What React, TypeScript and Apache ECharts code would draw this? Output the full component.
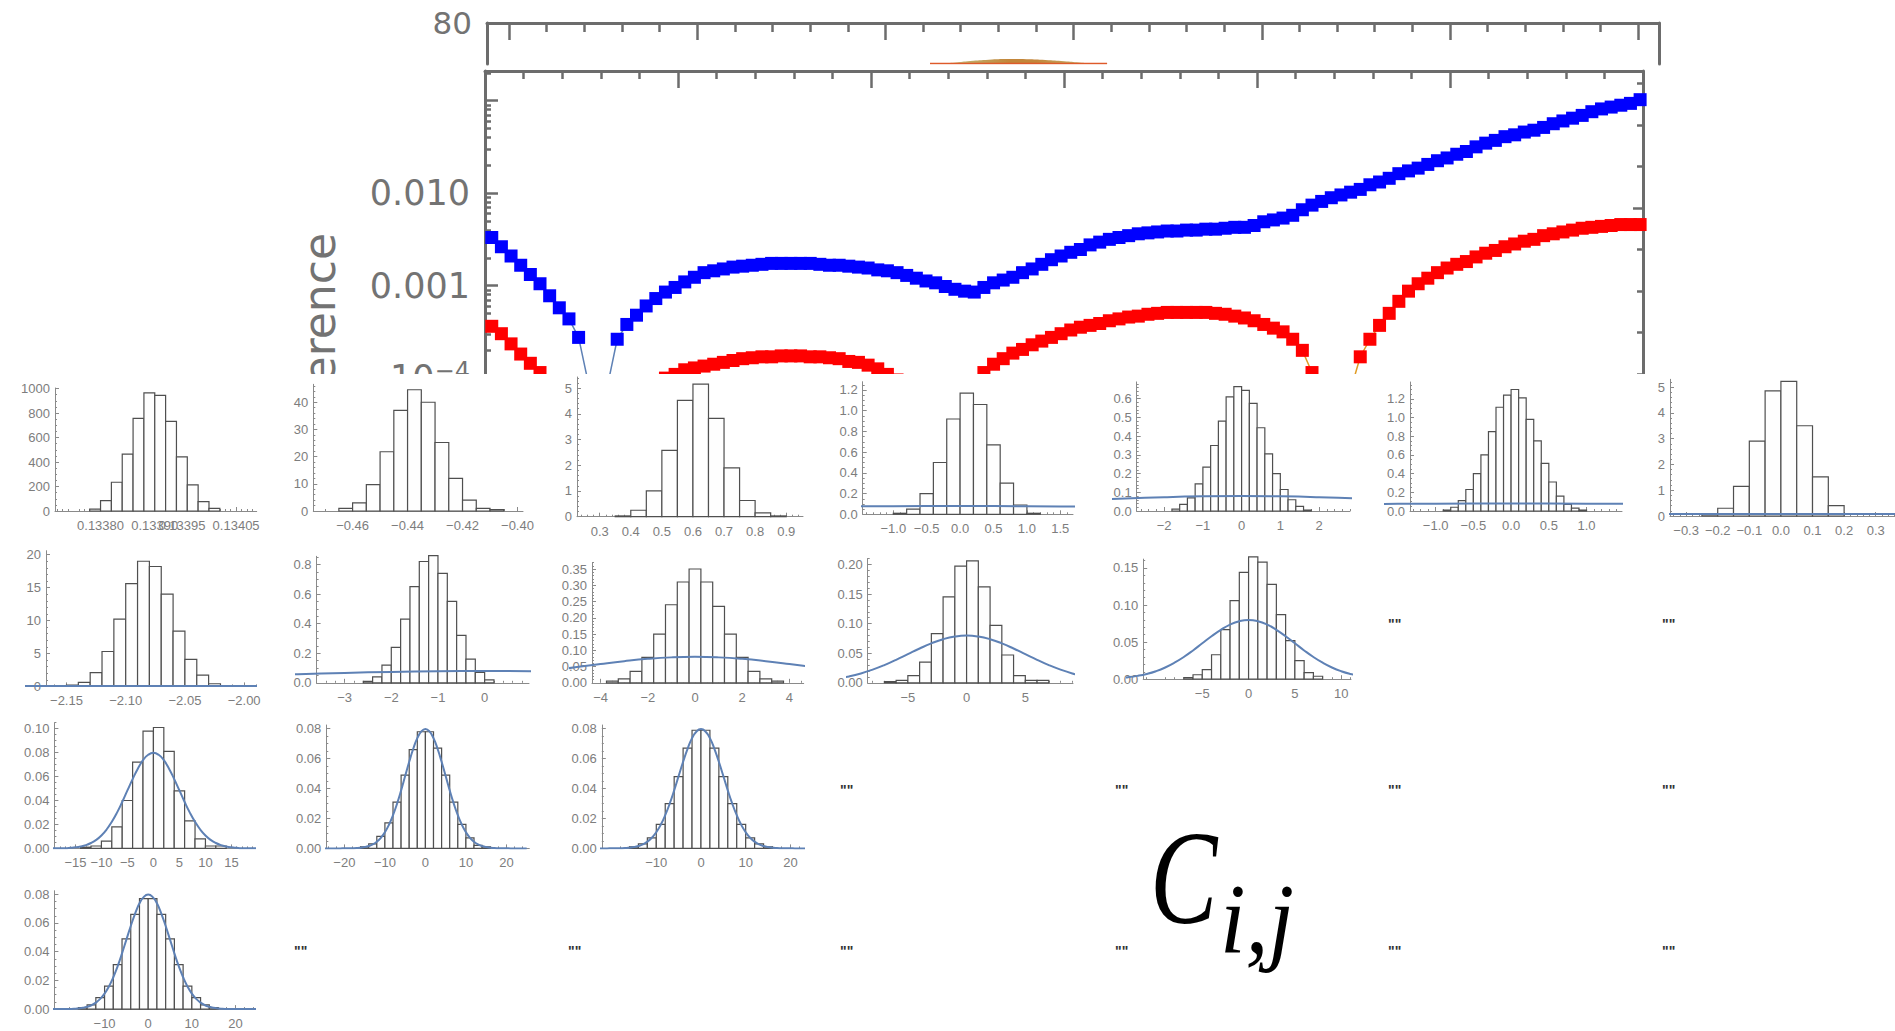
import React, { useEffect, useRef } from 'react';
import * as echarts from 'echarts';

// ---------------- Top plot: log10 of the difference, sampled every 0.5 x-units ----------------
const diffX0 = 0.35;
const diffDX = 0.5;
const blueLog10Diff = [
  -2.48, -2.58, -2.68, -2.78, -2.88, -2.98, -3.11, -3.24, -3.36, -3.56,
  -4.05, -4.9, -4.08, -3.58, -3.42, -3.32, -3.22, -3.14, -3.07, -3.02,
  -2.96, -2.91, -2.86, -2.84, -2.82, -2.8, -2.79, -2.78, -2.77, -2.76,
  -2.76, -2.76, -2.76, -2.76, -2.77, -2.78, -2.78, -2.79, -2.8, -2.81,
  -2.83, -2.84, -2.86, -2.89, -2.92, -2.95, -2.97, -3.01, -3.04, -3.06,
  -3.07, -3.02, -2.97, -2.94, -2.91, -2.86, -2.82, -2.77, -2.72, -2.68,
  -2.64, -2.61, -2.56, -2.53, -2.5, -2.48, -2.46, -2.44, -2.43, -2.42,
  -2.41, -2.41, -2.4, -2.4, -2.39, -2.39, -2.38, -2.37, -2.37, -2.35,
  -2.31, -2.29, -2.27, -2.24, -2.18, -2.13, -2.09, -2.05, -2.02, -1.99,
  -1.96, -1.91, -1.88, -1.84, -1.79, -1.76, -1.73, -1.69, -1.65, -1.62,
  -1.58, -1.55, -1.5, -1.46, -1.43, -1.39, -1.37, -1.34, -1.32, -1.29,
  -1.25, -1.22, -1.19, -1.16, -1.12, -1.09, -1.07, -1.05, -1.03, -0.99,
];
const redLog10Diff = [
  -3.44, -3.52, -3.63, -3.74, -3.84, -3.94, -4.04, -4.15, -4.27, -4.41,
  -4.62, -5.5, -4.78, -4.51, -4.35, -4.24, -4.15, -4.06, -4.0, -3.96,
  -3.91, -3.89, -3.87, -3.85, -3.83, -3.81, -3.79, -3.78, -3.77, -3.77,
  -3.76, -3.76, -3.76, -3.77, -3.77, -3.78, -3.79, -3.82, -3.83, -3.86,
  -3.9, -3.96, -4.02, -4.1, -4.19, -4.35, -4.56, -4.89, -5.5, -4.45,
  -4.13, -3.94, -3.85, -3.79, -3.73, -3.69, -3.64, -3.6, -3.56, -3.52,
  -3.48, -3.45, -3.43, -3.41, -3.38, -3.36, -3.34, -3.33, -3.31, -3.3,
  -3.29, -3.29, -3.29, -3.29, -3.29, -3.3, -3.31, -3.33, -3.35, -3.38,
  -3.42, -3.46, -3.5, -3.58, -3.7, -3.94, -4.35, -5.5, -4.67, -4.13,
  -3.77, -3.58, -3.43, -3.3, -3.17, -3.06, -2.98, -2.92, -2.86, -2.81,
  -2.77, -2.74, -2.69, -2.65, -2.62, -2.58, -2.55, -2.52, -2.5, -2.46,
  -2.44, -2.42, -2.4, -2.38, -2.37, -2.36, -2.35, -2.34, -2.34, -2.34,
];
const mainXMajor = [0, 10, 20, 30, 40, 50, 60];
const logMajorExp = [-5, -4, -3, -2, -1];
const logLabelExp = [-4, -3, -2];
const rightMajor = [0, -5];

// small density strip in the upper panel
const stripX = [2.237, 2.3, 2.37, 2.45, 2.55, 2.65, 2.75, 2.85, 2.95, 3.03, 3.1, 3.178];
const stripY = [0, 1, 3, 6, 8.5, 9.8, 9.5, 8, 5.5, 3, 1, 0];
const panelMajor = [0, 1, 2, 3, 4, 5, 6];
const panelLabel = [80];

// ---------------- Histograms ----------------
const histA = [15, 85, 235, 465, 757, 965, 945, 732, 443, 213, 76, 22];
const histB = [1, 3, 9.7, 21.8, 37, 44.6, 40, 25.2, 12, 4, 1, 0.5];
const histC = [0.03, 0.25, 1.0, 2.58, 4.52, 5.15, 3.82, 1.9, 0.63, 0.15, 0.03];
const histD = [0.01, 0.05, 0.2, 0.5, 0.92, 1.17, 1.06, 0.67, 0.3, 0.09, 0.01];
const histE = [0.01, 0.035, 0.07, 0.145, 0.235, 0.35, 0.48, 0.61, 0.665, 0.645, 0.575, 0.445, 0.305, 0.2, 0.115, 0.06, 0.025, 0.005];
const histF = [0.01, 0.04, 0.11, 0.23, 0.4, 0.6, 0.85, 1.11, 1.24, 1.3, 1.21, 0.98, 0.75, 0.51, 0.31, 0.16, 0.07, 0.03, 0.01];
const histG = [0.05, 0.3, 1.15, 2.9, 4.85, 5.22, 3.5, 1.52, 0.4];
const histH = [0.2, 0.6, 2.1, 5.3, 10.2, 15.6, 19, 18.2, 14, 8.4, 4.1, 1.7, 0.4];
const histI = [0.01, 0.04, 0.12, 0.24, 0.43, 0.65, 0.82, 0.86, 0.74, 0.55, 0.32, 0.16, 0.07, 0.02];
const histJ = [0.005, 0.012, 0.035, 0.078, 0.15, 0.24, 0.31, 0.35, 0.31, 0.235, 0.15, 0.078, 0.035, 0.012, 0.005];
const histK = [0.002, 0.004, 0.012, 0.035, 0.083, 0.145, 0.197, 0.206, 0.162, 0.097, 0.047, 0.012, 0.004, 0.004];
const histL = [0.002, 0.006, 0.013, 0.033, 0.067, 0.106, 0.144, 0.165, 0.158, 0.128, 0.087, 0.052, 0.025, 0.009, 0.004];
const histM = [0.001, 0.002, 0.006, 0.018, 0.04, 0.072, 0.098, 0.101, 0.081, 0.048, 0.023, 0.008, 0.002, 0.002];
const histN = [0.001, 0.003, 0.008, 0.017, 0.031, 0.049, 0.066, 0.078, 0.078, 0.067, 0.049, 0.031, 0.016, 0.007, 0.002, 0.001];
const histO = [0.001, 0.003, 0.007, 0.016, 0.03, 0.048, 0.067, 0.079, 0.079, 0.067, 0.048, 0.03, 0.016, 0.007, 0.003, 0.001];
const histP = [0.001, 0.003, 0.008, 0.016, 0.031, 0.049, 0.066, 0.077, 0.077, 0.066, 0.049, 0.031, 0.016, 0.008, 0.003, 0.001];
const histHeights = [histA, histB, histC, histD, histE, histF, histG, histH, histI, histJ, histK, histL, histM, histN, histO, histP];
const histBinStart = [0.13378, -0.465, 0.35, -1.0, -1.8, -0.9, -0.25, -2.15, -2.6, -3.75, -7, -7, -14, -16, -16, -16];
const histBinWidth = [0.00002, 0.005, 0.05, 0.2, 0.2, 0.1, 0.05, 0.01, 0.2, 0.5, 1, 1, 2, 2, 2, 2];
// x tick labels [first, last, step] and decimals
const histXTicks = [
  [0.1338, 0.13405, 0.00005], [-0.46, -0.4, 0.02], [0.3, 0.9, 0.1], [-1, 1.5, 0.5],
  [-2, 2, 1], [-1, 1, 0.5], [-0.3, 0.3, 0.1], [-2.15, -2.0, 0.05],
  [-3, 0, 1], [-4, 4, 2], [-5, 5, 5], [-5, 10, 5],
  [-15, 15, 5], [-20, 20, 10], [-10, 20, 10], [-10, 20, 10],
];
const histXDec = [5, 2, 1, 1, 0, 1, 1, 2, 0, 0, 0, 0, 0, 0, 0, 0];
const histYStep = [200, 10, 1, 0.2, 0.1, 0.2, 1, 5, 0.2, 0.05, 0.05, 0.05, 0.02, 0.02, 0.02, 0.02];
const histYDec = [0, 0, 0, 1, 1, 1, 0, 0, 1, 2, 2, 2, 2, 2, 2, 2];
const histXRange = [
  [0.133716, 0.134088], [-0.4743, -0.398], [0.227, 0.954], [-1.458, 1.69],
  [-2.71, 2.8], [-1.34, 1.47], [-0.351, 0.361], [-2.1673, -1.99],
  [-3.6, 0.95], [-4.364, 4.606], [-8.42, 9.06], [-11.38, 11.06],
  [-19.04, 19.3], [-24.47, 25.65], [-22.19, 22.98], [-21.5, 24.2],
];
const histYMax = [1005, 46.6, 5.43, 1.28, 0.69, 1.38, 5.3, 20.6, 0.855, 0.37, 0.21, 0.162, 0.105, 0.0825, 0.0825, 0.0825];
const histHasCurve = [false, false, false, true, true, true, true, true, true, true, true, true, true, true, true, true];

// reference normal density drawn on the panels
const normalX = [
  -25, -24, -23, -22, -21, -20, -19, -18, -17, -16, -15, -14, -13, -12, -11, -10, -9, -8, -7, -6, -5, -4, -3, -2, -1,
  0, 1, 2, 3, 4, 5, 6, 7, 8, 9, 10, 11, 12, 13, 14, 15, 16, 17, 18, 19, 20, 21, 22, 23, 24, 25,
];
const normalY = [
  0, 0, 0, 0, 0.00001, 0.00003, 0.00006, 0.0001, 0.0002, 0.0005, 0.0009, 0.0016, 0.0027, 0.0045, 0.0071, 0.0108,
  0.0158, 0.0222, 0.0299, 0.0388, 0.0484, 0.0579, 0.0666, 0.0737, 0.0782, 0.0798, 0.0782, 0.0737, 0.0666, 0.0579,
  0.0484, 0.0388, 0.0299, 0.0222, 0.0158, 0.0108, 0.0071, 0.0045, 0.0027, 0.0016, 0.0009, 0.0005, 0.0002, 0.0001,
  0.00006, 0.00003, 0.00001, 0, 0, 0, 0,
];

// ---------------- Layout (pixels in the 1895x1031 page) ----------------
// [axisX, rightEdge, y of zero, top of y axis, curve extension to the left]
const HIST_BOX = [
  [55, 256.7, 511, 388, 0], [313.3, 523, 511, 384.3, 0], [577, 803, 516.7, 377, 0], [862.7, 1073, 514.3, 381.7, 0],
  [1136.7, 1350, 511, 381.9, 23], [1410, 1622, 511, 382, 25], [1670, 1895, 516, 379.3, 0],
  [46, 256, 686.4, 550.7, 20], [316.6, 529, 682.8, 556.3, 20], [592, 803.7, 682.8, 562.5, 22], [867.7, 1073, 682.8, 558.5, 20], [1143.2, 1351, 679.2, 559.1, 16],
  [54.4, 253.8, 848.4, 722.7, 0], [326.3, 529.3, 848.4, 725, 0], [601.8, 803.7, 848.4, 725, 0],
  [54.4, 253.8, 1009.1, 890.7, 0],
];
const QUOTE_POS = [
  [1388, 623.6], [1662, 623.6],
  [840, 790], [1115, 790], [1388, 790], [1662, 790],
  [294, 951], [568, 951], [840, 951], [1115, 951], [1388, 951], [1662, 951],
];

const TOP_H = 374;
const AXC = '#6c6c6c';
const TLB = '#737373';
const HAX = '#8a8a8a';
const HLB = '#7d7d7d';
const CURVE = '#5E81B5';

function rng(a: number, b: number, s: number): number[] {
  const out: number[] = [];
  const k0 = Math.ceil(a / s - 1e-7);
  const k1 = Math.floor(b / s + 1e-7);
  for (let k = k0; k <= k1; k++) out.push(Number((k * s).toFixed(10)));
  return out;
}
function isMult(v: number, s: number) {
  const r = v / s;
  return Math.abs(r - Math.round(r)) < 1e-6;
}
function minorDiv(step: number) {
  const m = step / Math.pow(10, Math.floor(Math.log10(step) + 1e-9));
  return Math.round(m) === 2 ? 4 : 5;
}
function fmt(v: number, d: number) {
  const s = Math.abs(v).toFixed(d);
  if (Number(s) === 0) return s;
  return (v < 0 ? '−' : '') + s;
}

function baseAxis(extra: any) {
  return {
    type: 'value',
    splitLine: { show: false },
    axisLine: { show: false, onZero: false },
    axisTick: { show: false },
    axisLabel: { show: false },
    ...extra,
  };
}

function buildTopOption() {
  const line = (w: number) => ({ show: true, onZero: false, lineStyle: { color: AXC, width: w } });
  const tick = (vals: number[], len: number) => ({ show: true, inside: true, length: len, customValues: vals, lineStyle: { color: AXC, width: 2.5 } });
  const mainMinor = rng(0, 60, 2).filter((v) => !isMult(v, 10));
  const logMinor: number[] = [];
  for (let n = -5; n <= -1; n++) for (let k = 2; k <= 9; k++) { const v = n + Math.log10(k); if (v <= -0.68) logMinor.push(v); }
  const pMin = -0.1169, pMax = 6.1105;
  const panelMinor = rng(pMin, pMax, 0.2).filter((v) => !isMult(v, 1));
  const rMin = -6.33, rMax = 3.3;
  const rightMinor = rng(rMin, rMax, 1).filter((v) => v !== 0 && v !== -5);

  const xs = blueLog10Diff.map((_, i) => diffX0 + i * diffDX);
  const lbl = { fontSize: 35, fontFamily: 'DejaVu Sans', color: TLB };

  return {
    animation: false,
    grid: [
      { left: 485, top: 71, width: 1158, height: 399.6, containLabel: false, outerBoundsMode: 'none' },
      { left: 487, top: 23, width: 1172, height: 41, containLabel: false, outerBoundsMode: 'none' },
    ],
    xAxis: [
      baseAxis({ gridIndex: 0, position: 'top', min: 0, max: 60, axisLine: line(3), axisTick: tick(mainXMajor, 17) }),
      baseAxis({ gridIndex: 0, position: 'top', min: 0, max: 60, axisTick: tick(mainMinor, 8) }),
      baseAxis({ gridIndex: 1, position: 'top', min: pMin, max: pMax, axisLine: line(3), axisTick: tick(panelMajor, 17) }),
      baseAxis({ gridIndex: 1, position: 'top', min: pMin, max: pMax, axisTick: tick(panelMinor, 9) }),
    ],
    yAxis: [
      baseAxis({
        gridIndex: 0, position: 'left', min: -5, max: -0.68, axisLine: line(3), axisTick: tick(logMajorExp, 13),
        axisLabel: {
          show: true, customValues: logLabelExp, margin: 15, ...lbl, hideOverlap: false,
          showMinLabel: true, showMaxLabel: true,
          formatter: (v: number) => {
            const e = Math.round(v);
            if (e >= -3) return Math.pow(10, e).toFixed(3);
            return '{b|10}{s|−' + -e + '}';
          },
          rich: {
            b: { ...lbl },
            s: { fontSize: 24, fontFamily: 'DejaVu Sans', color: TLB, verticalAlign: 'top', padding: [0, 0, 14, 0] },
          },
        },
      }),
      baseAxis({ gridIndex: 0, position: 'left', min: -5, max: -0.68, axisTick: tick(logMinor, 6) }),
      baseAxis({ gridIndex: 0, position: 'right', min: rMin, max: rMax, axisLine: line(3), axisTick: tick(rightMajor, 10) }),
      baseAxis({ gridIndex: 0, position: 'right', min: rMin, max: rMax, axisTick: tick(rightMinor, 6) }),
      baseAxis({
        gridIndex: 1, position: 'left', min: 0, max: 80, axisLine: line(3),
        axisLabel: {
          show: true, customValues: panelLabel, margin: 15, fontSize: 31, fontFamily: 'DejaVu Sans', color: TLB,
          showMinLabel: true, showMaxLabel: true, formatter: (v: number) => String(Math.round(v)),
        },
      }),
      baseAxis({ gridIndex: 1, position: 'right', min: 0, max: 80, axisLine: line(3) }),
    ],
    series: [
      {
        type: 'line', name: 'red', xAxisIndex: 0, yAxisIndex: 0, z: 3,
        data: xs.map((x, i) => [x, redLog10Diff[i]]),
        showSymbol: true, showAllSymbol: true, symbol: 'rect', symbolSize: 13,
        itemStyle: { color: '#ff0000', borderWidth: 0 },
        lineStyle: { color: '#E19C24', width: 1.5 },
        emphasis: { disabled: true }, clip: true,
      },
      {
        type: 'line', name: 'blue', xAxisIndex: 0, yAxisIndex: 0, z: 4,
        data: xs.map((x, i) => [x, blueLog10Diff[i]]),
        showSymbol: true, showAllSymbol: true, symbol: 'rect', symbolSize: 13,
        itemStyle: { color: '#0000ff', borderWidth: 0 },
        lineStyle: { color: CURVE, width: 1.5 },
        emphasis: { disabled: true }, clip: true,
      },
      {
        type: 'line', xAxisIndex: 2, yAxisIndex: 4, smooth: true, showSymbol: false,
        data: stripX.map((x, i) => [x, stripY[i]]),
        lineStyle: { width: 0 },
        areaStyle: {
          opacity: 1,
          color: new echarts.graphic.LinearGradient(0, 0, 1, 0, [
            { offset: 0, color: 'rgba(205,205,150,0.6)' },
            { offset: 0.2, color: '#bfae6a' },
            { offset: 0.45, color: '#c3863a' },
            { offset: 0.6, color: '#c3863a' },
            { offset: 0.85, color: '#bfae6a' },
            { offset: 1, color: 'rgba(205,205,150,0.6)' },
          ]),
        },
      },
      {
        type: 'line', xAxisIndex: 2, yAxisIndex: 4, showSymbol: false,
        data: [[stripX[0], 0.8], [stripX[stripX.length - 1], 0.8]],
        lineStyle: { color: '#de5a2a', width: 1.5 },
      },
    ],
    graphic: [
      {
        type: 'text', x: 319, y: 233, rotation: Math.PI / 2,
        style: { text: 'Difference', font: '44px "DejaVu Sans"', fill: TLB, textAlign: 'right', textVerticalAlign: 'middle' },
      },
    ],
  };
}

function buildBottomOption() {
  const grid: any[] = [];
  const xAxis: any[] = [];
  const yAxis: any[] = [];
  const series: any[] = [];
  const lab = {
    fontSize: 13, fontFamily: 'Liberation Sans', color: HLB, hideOverlap: false,
    showMinLabel: true, showMaxLabel: true,
  };

  histHeights.forEach((heights, i) => {
    const [axisX, right, y0, top, ext] = HIST_BOX[i];
    const [xMin, xMax] = histXRange[i];
    const yMax = histYMax[i];
    const [t0, t1, ts] = histXTicks[i];
    const xMaj = rng(t0, t1, ts);
    const xMinor = rng(xMin, xMax, ts / minorDiv(ts)).filter((v) => !isMult(v, ts));
    const ys = histYStep[i];
    const yMaj = rng(0, yMax, ys);
    const yMinor = rng(0, yMax, ys / minorDiv(ys)).filter((v) => !isMult(v, ys));
    const xDec = histXDec[i];
    const yDec = histYDec[i];

    const g = grid.length;
    grid.push({ left: axisX, top: top - TOP_H, width: right - axisX, height: y0 - top, containLabel: false, outerBoundsMode: 'none' });
    const xi = xAxis.length;
    xAxis.push(
      baseAxis({
        gridIndex: g, position: 'bottom', min: xMin, max: xMax,
        axisLine: { show: true, onZero: false, lineStyle: { color: HAX, width: 1 } },
        axisTick: { show: true, inside: true, length: 4, customValues: xMaj, lineStyle: { color: HAX, width: 1 } },
        axisLabel: { show: true, customValues: xMaj, margin: 8, ...lab, formatter: (v: number) => fmt(v, xDec) },
      }),
      baseAxis({
        gridIndex: g, position: 'bottom', min: xMin, max: xMax,
        axisTick: { show: true, inside: true, length: 2, customValues: xMinor, lineStyle: { color: HAX, width: 1 } },
      }),
    );
    const yi = yAxis.length;
    yAxis.push(
      baseAxis({
        gridIndex: g, position: 'left', min: 0, max: yMax,
        axisLine: { show: true, onZero: false, lineStyle: { color: HAX, width: 1 } },
        axisTick: { show: true, inside: true, length: 4, customValues: yMaj, lineStyle: { color: HAX, width: 1 } },
        axisLabel: { show: true, customValues: yMaj, margin: 5, ...lab, formatter: (v: number) => fmt(v, yDec) },
      }),
      baseAxis({
        gridIndex: g, position: 'left', min: 0, max: yMax,
        axisTick: { show: true, inside: true, length: 2, customValues: yMinor, lineStyle: { color: HAX, width: 1 } },
      }),
    );
    const start = histBinStart[i];
    const w = histBinWidth[i];
    series.push({
      type: 'custom', xAxisIndex: xi, yAxisIndex: yi, z: 2,
      data: heights.map((h, k) => [start + k * w, start + (k + 1) * w, h]),
      encode: { x: [0, 1], y: 2 },
      renderItem: (params: any, api: any) => {
        const a = api.coord([api.value(0), api.value(2)]);
        const b = api.coord([api.value(1), 0]);
        return {
          type: 'rect',
          shape: { x: a[0], y: a[1], width: b[0] - a[0], height: b[1] - a[1] },
          style: { fill: '#fefefe', stroke: '#4f4f4f', lineWidth: 1.2 },
        };
      },
    });

    if (histHasCurve[i]) {
      const ppu = (right - axisX) / (xMax - xMin);
      const g2 = grid.length;
      grid.push({ left: axisX - ext, top: top - TOP_H, width: right - axisX + ext, height: y0 - top, containLabel: false, outerBoundsMode: 'none' });
      const cx = xAxis.length;
      xAxis.push({ type: 'value', gridIndex: g2, min: xMin - ext / ppu, max: xMax, show: false });
      const cy = yAxis.length;
      yAxis.push({ type: 'value', gridIndex: g2, min: 0, max: yMax, show: false });
      series.push({
        type: 'line', xAxisIndex: cx, yAxisIndex: cy, z: 3, smooth: true, showSymbol: false, clip: true,
        data: normalX.map((x, k) => [x, normalY[k]]),
        lineStyle: { color: CURVE, width: 2 },
        emphasis: { disabled: true },
      });
    }
  });

  const graphic: any[] = QUOTE_POS.map(([x, y]) => ({
    type: 'text', x, y: y - TOP_H,
    style: { text: '""', font: 'bold 14px "Liberation Sans"', fill: '#333', textAlign: 'left', textVerticalAlign: 'middle' },
  }));
  graphic.push(
    {
      type: 'text', x: 1150, y: 879 - TOP_H, scaleX: 0.76,
      style: { text: 'C', font: 'italic 133px "Liberation Serif"', fill: '#000', textAlign: 'left', textVerticalAlign: 'middle' },
    },
    {
      type: 'text', x: 1220, y: 918 - TOP_H, scaleX: 0.92,
      style: { text: 'i,j', font: 'italic 100px "Liberation Serif"', fill: '#000', textAlign: 'left', textVerticalAlign: 'middle' },
    },
  );

  return { animation: false, grid, xAxis, yAxis, series, graphic };
}

export default function App() {
  const topRef = useRef<HTMLDivElement>(null);
  const botRef = useRef<HTMLDivElement>(null);
  useEffect(() => {
    document.body.style.margin = '0';
    const t = echarts.init(topRef.current as HTMLDivElement, null, { renderer: 'svg' });
    t.setOption(buildTopOption() as any);
    const b = echarts.init(botRef.current as HTMLDivElement, null, { renderer: 'svg' });
    b.setOption(buildBottomOption() as any);
    return () => {
      t.dispose();
      b.dispose();
    };
  }, []);
  return (
    <div style={{ position: 'relative', width: 1895, height: 1031, background: '#fff', overflow: 'hidden' }}>
      <div ref={topRef} style={{ position: 'absolute', left: 0, top: 0, width: 1895, height: TOP_H, overflow: 'hidden' }} />
      <div ref={botRef} style={{ position: 'absolute', left: 0, top: TOP_H, width: 1895, height: 1031 - TOP_H }} />
    </div>
  );
}
